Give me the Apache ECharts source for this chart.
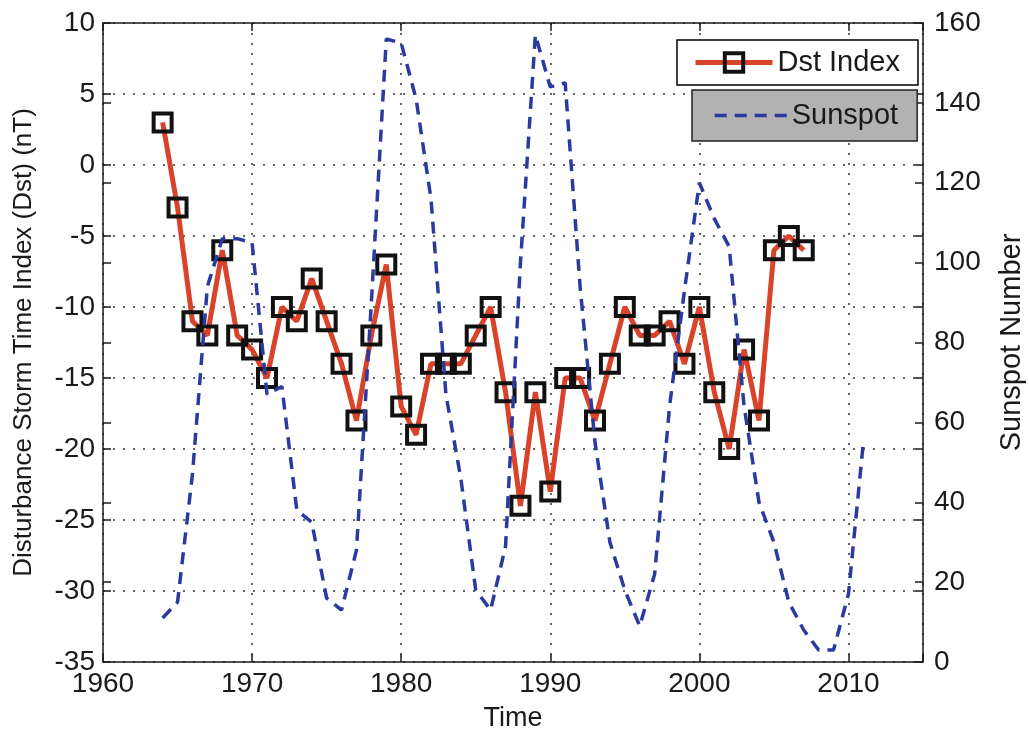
<!DOCTYPE html>
<html>
<head>
<meta charset="utf-8">
<script src="https://cdn.jsdelivr.net/npm/echarts@6/dist/echarts.min.js"></script>
<style>
  html, body { margin: 0; padding: 0; background: #fff; }
  #chart { width: 1029px; height: 738px; }
</style>
</head>
<body>
<div id="chart"></div>
<script>
// Annual mean Dst index (nT), 1964-2007
const dstYears = [1964, 1965, 1966, 1967, 1968, 1969, 1970, 1971, 1972, 1973, 1974,
  1975, 1976, 1977, 1978, 1979, 1980, 1981, 1982, 1983, 1984, 1985, 1986, 1987,
  1988, 1989, 1990, 1991, 1992, 1993, 1994, 1995, 1996, 1997, 1998, 1999, 2000,
  2001, 2002, 2003, 2004, 2005, 2006, 2007];
const dstIndex = [3, -3, -11, -12, -6, -12, -13, -15, -10, -11, -8,
  -11, -14, -18, -12, -7, -17, -19, -14, -14, -14, -12, -10, -16,
  -24, -16, -23, -15, -15, -18, -14, -10, -12, -12, -11, -14, -10,
  -16, -20, -13, -18, -6, -5, -6];

// Annual mean sunspot number, 1964-2011
const sunspotYears = [1964, 1965, 1966, 1967, 1968, 1969, 1970, 1971, 1972, 1973,
  1974, 1975, 1976, 1977, 1978, 1979, 1980, 1981, 1982, 1983, 1984, 1985, 1986,
  1987, 1988, 1989, 1990, 1991, 1992, 1993, 1994, 1995, 1996, 1997, 1998, 1999,
  2000, 2001, 2002, 2003, 2004, 2005, 2006, 2007, 2008, 2009, 2010, 2011];
const sunspotNumber = [11, 15, 47, 94, 106, 106, 105, 67, 69, 38,
  35, 16, 13, 28, 90, 156, 155, 141, 116, 67, 46, 18, 13,
  29, 100, 157, 144, 145, 94, 55, 30, 18, 9, 22, 64, 93,
  120, 111, 104, 64, 40, 30, 15, 8, 3, 3, 17, 55];

// Axis ranges and tick steps
const xRange = [1960, 2015], xStep = 10;
const dstRange = [-35, 10], dstStep = 5;
const sunRange = [0, 160], sunStep = 20;

const FONT = '"Liberation Sans", Arial, Helvetica, sans-serif';
const INK = '#1a1a1a';
const DST_RED = '#d8432a';
const SUN_BLUE = '#2b3a9e';
const dotted = { color: '#333', width: 1.5, type: [2, 8] };
const frameLine = { show: true, onZero: false, lineStyle: { color: INK, width: 1.5 } };
const inTicks = { show: true, inside: true, length: 8, lineStyle: { color: INK, width: 1.5 } };

const chart = echarts.init(document.getElementById('chart'), null, { renderer: 'canvas' });

function yAxisDef(range, step, position, opts) {
  return Object.assign({
    type: 'value', position: position,
    min: range[0], max: range[1], interval: step,
    axisLine: frameLine,
    axisTick: inTicks,
    axisLabel: { show: false },
    splitLine: { show: false }
  }, opts);
}

const option = {
  backgroundColor: '#fff',
  animation: false,
  grid: { left: 103, right: 106, top: 23, bottom: 76, containLabel: false, outerBoundsMode: 'none' },
  legend: [
    {
      data: ['Dst Index'],
      left: 677, top: 40,
      padding: [8, 18, 8, 16],
      itemWidth: 77, itemHeight: 23, itemGap: 0,
      backgroundColor: '#fff', borderColor: '#000', borderWidth: 1.5,
      lineStyle: { color: DST_RED, width: 5 },
      itemStyle: { color: 'rgba(0,0,0,0)', borderColor: '#111', borderWidth: 4 },
      textStyle: { fontSize: 29, fontFamily: FONT, color: INK }
    },
    {
      data: ['Sunspot'],
      left: 692, top: 90,
      padding: [11, 19, 11, 21],
      itemWidth: 72, itemHeight: 22, itemGap: 0,
      backgroundColor: '#b2b2b2', borderColor: '#222', borderWidth: 1.5,
      lineStyle: { color: SUN_BLUE, width: 3.5, type: [12, 8] },
      itemStyle: { color: 'rgba(0,0,0,0)', borderWidth: 0 },
      textStyle: { fontSize: 29, fontFamily: FONT, color: INK }
    }
  ],
  xAxis: [
    {
      type: 'value', position: 'bottom',
      min: xRange[0], max: xRange[1], interval: xStep,
      name: 'Time', nameLocation: 'middle', nameGap: 43,
      nameTextStyle: { fontSize: 27, fontFamily: FONT, color: INK },
      axisLine: frameLine,
      axisTick: inTicks,
      axisLabel: {
        fontSize: 28, fontFamily: FONT, color: INK, margin: 8,
        formatter: v => (v % xStep === 0 ? String(v) : '')
      },
      splitLine: { show: true, lineStyle: dotted }
    },
    {
      type: 'value', position: 'top',
      min: xRange[0], max: xRange[1], interval: xStep,
      axisLine: frameLine,
      axisTick: inTicks,
      axisLabel: { show: false },
      splitLine: { show: false }
    }
  ],
  yAxis: [
    yAxisDef(dstRange, dstStep, 'left', {
      name: 'Disturbance Storm Time Index (Dst) (nT)',
      nameLocation: 'middle', nameGap: 66, nameRotate: 90,
      nameTextStyle: { fontSize: 26, fontFamily: FONT, color: INK },
      axisLabel: { show: true, fontSize: 28, fontFamily: FONT, color: INK, margin: 8 },
      splitLine: { show: true, lineStyle: dotted }
    }),
    yAxisDef(sunRange, sunStep, 'right', {
      name: 'Sunspot Number',
      nameLocation: 'middle', nameGap: 74, nameRotate: 90,
      nameTextStyle: { fontSize: 29, fontFamily: FONT, color: INK },
      axisLabel: { show: true, fontSize: 28, fontFamily: FONT, color: INK, margin: 11 }
    }),
    // mirrored tick marks: sunspot scale on the left edge, Dst scale on the right edge
    yAxisDef(sunRange, sunStep, 'left', { axisLine: { show: false } }),
    yAxisDef(dstRange, dstStep, 'right', { axisLine: { show: false } })
  ],
  series: [
    {
      name: 'Dst Index',
      type: 'line',
      xAxisIndex: 0, yAxisIndex: 0,
      data: dstYears.map((y, i) => [y, dstIndex[i]]),
      symbol: 'rect', symbolSize: 18,
      itemStyle: { color: 'rgba(0,0,0,0)', borderColor: '#111', borderWidth: 4 },
      lineStyle: { color: DST_RED, width: 5 },
      z: 2
    },
    {
      name: 'Sunspot',
      type: 'line',
      xAxisIndex: 0, yAxisIndex: 1,
      data: sunspotYears.map((y, i) => [y, sunspotNumber[i]]),
      symbol: 'none',
      itemStyle: { color: SUN_BLUE },
      lineStyle: { color: SUN_BLUE, width: 3.5, type: [12, 8] },
      z: 3
    }
  ]
};

chart.setOption(option);
</script>
</body>
</html>
